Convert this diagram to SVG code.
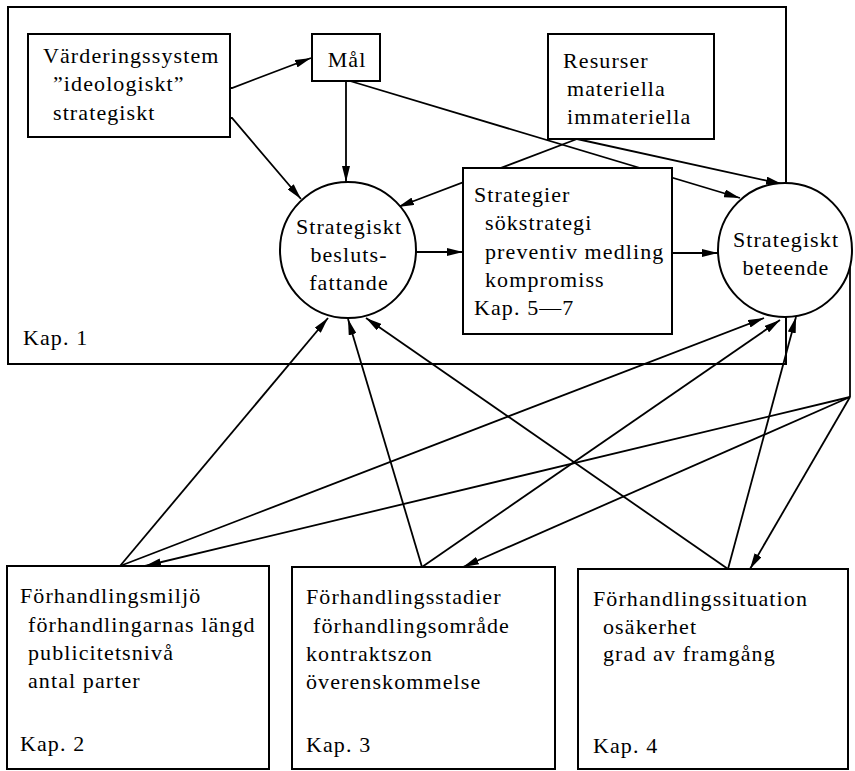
<svg xmlns="http://www.w3.org/2000/svg" width="855" height="771" viewBox="0 0 855 771">
<defs>
<marker id="ah" viewBox="0 0 16 8" refX="16" refY="4" markerWidth="16" markerHeight="8" markerUnits="userSpaceOnUse" orient="auto">
<path d="M0,0 L16,4 L0,8 z" fill="#000"/>
</marker>
<style>
text{font-family:'Liberation Serif','DejaVu Serif',serif;font-size:22px;letter-spacing:1.1px;fill:#000}
.m{text-anchor:middle}
.b{fill:#fff;stroke:#000;stroke-width:2}
.c{fill:none;stroke:#000;stroke-width:1.8}
.a{marker-end:url(#ah)}
</style>
</defs>
<rect width="855" height="771" fill="#fff"/>
<g id="frame">
<rect x="8" y="7" width="778" height="357" fill="none" stroke="#000" stroke-width="2"/>
<text x="23" y="345" font-family="Liberation Serif, serif">Kap. 1</text>
</g>
<g id="connectors">
<polyline class="c a" points="193,88 232,88 311,58"/>
<polyline class="c a" points="164,118 232,118 301,199"/>
<line class="c a" x1="346" y1="81" x2="346" y2="182"/>
<line class="c a" x1="350" y1="81" x2="740" y2="198"/>
<line class="c a" x1="577" y1="139" x2="398" y2="207"/>
<line class="c a" x1="577" y1="139" x2="782" y2="184"/>
<line class="c a" x1="416" y1="252" x2="463" y2="252"/>
<line class="c a" x1="672" y1="253" x2="718" y2="253"/>
<polyline class="c" points="850,262 850,397"/>
<line class="c a" x1="850" y1="397" x2="145" y2="566"/>
<line class="c a" x1="850" y1="397" x2="463" y2="567"/>
<line class="c a" x1="850" y1="397" x2="750" y2="569"/>
<line class="c a" x1="120" y1="566" x2="328" y2="318"/>
<line class="c a" x1="120" y1="566" x2="764" y2="318"/>
<line class="c a" x1="422" y1="567" x2="348" y2="319"/>
<line class="c a" x1="422" y1="567" x2="780" y2="320"/>
<line class="c a" x1="728" y1="569" x2="366" y2="318"/>
<line class="c a" x1="728" y1="569" x2="796" y2="317"/>
</g>
<g id="vardering">
<rect class="b" x="28" y="34" width="202" height="103"/>
<text x="43" y="63">Värderingssystem</text>
<text x="53" y="91">”ideologiskt”</text>
<text x="53" y="120">strategiskt</text>
</g>
<g id="mal">
<rect class="b" x="312" y="34" width="68" height="47"/>
<text class="m" x="347" y="67">Mål</text>
</g>
<g id="resurser">
<rect class="b" x="548" y="34" width="166" height="105"/>
<text x="563" y="68">Resurser</text>
<text x="567" y="96">materiella</text>
<text x="567" y="124">immateriella</text>
</g>
<g id="beslut">
<circle class="b" cx="348" cy="250" r="68"/>
<text class="m" x="349" y="234">Strategiskt</text>
<text class="m" x="349" y="262">besluts-</text>
<text class="m" x="349" y="290">fattande</text>
</g>
<g id="strategier">
<rect class="b" x="463" y="168" width="209" height="166"/>
<text x="474" y="202">Strategier</text>
<text x="485" y="230">sökstrategi</text>
<text x="485" y="259">preventiv medling</text>
<text x="485" y="287">kompromiss</text>
<text x="474" y="315">Kap. 5—7</text>
</g>
<g id="beteende">
<circle class="b" cx="785" cy="250" r="67"/>
<text class="m" x="786" y="247">Strategiskt</text>
<text class="m" x="786" y="275">beteende</text>
</g>
<g id="miljo">
<rect class="b" x="7" y="566" width="262" height="203"/>
<text x="20" y="603">Förhandlingsmiljö</text>
<text x="28" y="632">förhandlingarnas längd</text>
<text x="28" y="660">publicitetsnivå</text>
<text x="28" y="688">antal parter</text>
<text x="20" y="751">Kap. 2</text>
</g>
<g id="stadier">
<rect class="b" x="292" y="567" width="263" height="202"/>
<text x="306" y="604">Förhandlingsstadier</text>
<text x="313" y="633">förhandlingsområde</text>
<text x="306" y="661">kontraktszon</text>
<text x="306" y="689">överenskommelse</text>
<text x="306" y="752">Kap. 3</text>
</g>
<g id="situation">
<rect class="b" x="578" y="569" width="270" height="200"/>
<text x="593" y="606">Förhandlingssituation</text>
<text x="603" y="634">osäkerhet</text>
<text x="603" y="661">grad av framgång</text>
<text x="593" y="753">Kap. 4</text>
</g>
</svg>
